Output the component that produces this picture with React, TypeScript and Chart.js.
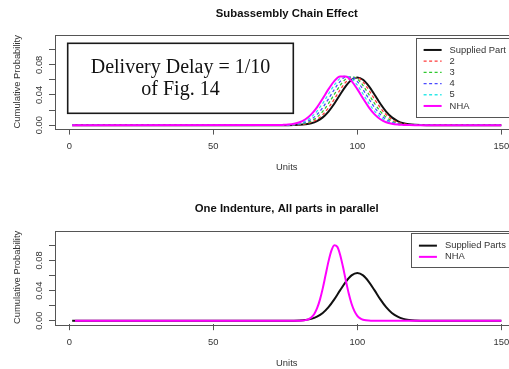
import React, { useEffect, useRef } from "react";
import { Chart, registerables } from "chart.js";

Chart.register(...registerables);

// ---------------- data ----------------
// x grid (Units) used by the "Subassembly Chain Effect" curves
const chainUnits = [1, 72, 74, 76, 78, 80, 82, 84, 86, 88, 90, 92, 94, 96, 98, 100, 102, 104, 106, 108, 110, 112, 114, 116, 118, 120, 122, 124, 126, 128, 150];

const suppliedPart = [0, 0, 0, 0, 0.0001, 0.0004, 0.0011, 0.0025, 0.0054, 0.0103, 0.018, 0.0283, 0.0403, 0.0517, 0.0602, 0.0633, 0.0602, 0.0517, 0.0403, 0.0283, 0.018, 0.0103, 0.0054, 0.0025, 0.0011, 0.0004, 0.0001, 0, 0, 0, 0];
const chain2 = [0, 0, 0, 0.0001, 0.0002, 0.0007, 0.0017, 0.0038, 0.0076, 0.0139, 0.023, 0.0344, 0.0466, 0.057, 0.063, 0.063, 0.057, 0.0466, 0.0344, 0.023, 0.0139, 0.0076, 0.0038, 0.0017, 0.0007, 0.0002, 0.0001, 0, 0, 0, 0];
const chain3 = [0, 0, 0, 0.0001, 0.0004, 0.0011, 0.0026, 0.0054, 0.0105, 0.0182, 0.0287, 0.0408, 0.0525, 0.0611, 0.0642, 0.0611, 0.0525, 0.0408, 0.0287, 0.0182, 0.0105, 0.0054, 0.0026, 0.0011, 0.0004, 0.0001, 0, 0, 0, 0, 0];
const chain4 = [0, 0, 0.0001, 0.0002, 0.0007, 0.0017, 0.0038, 0.0077, 0.0141, 0.0233, 0.0349, 0.0472, 0.0577, 0.0638, 0.0638, 0.0577, 0.0472, 0.0349, 0.0233, 0.0141, 0.0077, 0.0038, 0.0017, 0.0007, 0.0002, 0.0001, 0, 0, 0, 0, 0];
const chain5 = [0, 0, 0.0001, 0.0004, 0.0011, 0.0026, 0.0055, 0.0106, 0.0185, 0.029, 0.0413, 0.0531, 0.0618, 0.065, 0.0618, 0.0531, 0.0413, 0.029, 0.0185, 0.0106, 0.0055, 0.0026, 0.0011, 0.0004, 0.0001, 0, 0, 0, 0, 0, 0];
const nhaChain = [0, 0.0001, 0.0003, 0.0007, 0.0017, 0.0038, 0.0078, 0.0143, 0.0236, 0.0353, 0.0477, 0.0584, 0.0646, 0.0646, 0.0584, 0.0477, 0.0353, 0.0236, 0.0143, 0.0078, 0.0038, 0.0017, 0.0007, 0.0003, 0.0001, 0, 0, 0, 0, 0, 0];

// "One Indenture, All parts in parallel"
const suppliedPartsUnits = [1, 72, 74, 76, 78, 80, 82, 84, 86, 88, 90, 92, 94, 96, 98, 100, 102, 104, 106, 108, 110, 112, 114, 116, 118, 120, 122, 124, 126, 128, 150];
const suppliedParts = [0, 0, 0, 0, 0.0001, 0.0004, 0.0011, 0.0025, 0.0054, 0.0103, 0.018, 0.0283, 0.0403, 0.0517, 0.0602, 0.0633, 0.0602, 0.0517, 0.0403, 0.0283, 0.018, 0.0103, 0.0054, 0.0025, 0.0011, 0.0004, 0.0001, 0, 0, 0, 0];
const nhaParallelUnits = [2, 78, 79, 80, 81, 82, 83, 84, 85, 86, 87, 88, 89, 90, 91, 92, 93, 94, 95, 96, 97, 98, 99, 100, 101, 102, 103, 104, 105, 106, 150];
const nhaParallel = [0, 0, 0, 0.0001, 0.0003, 0.0008, 0.0019, 0.0043, 0.0087, 0.0163, 0.0277, 0.043, 0.061, 0.0788, 0.093, 0.1001, 0.0983, 0.088, 0.0719, 0.0536, 0.0365, 0.0226, 0.0128, 0.0066, 0.0031, 0.0013, 0.0005, 0.0002, 0.0001, 0, 0];

// axes
const xTickStep = 50;
const yTickStep = 0.02;
const yTickLabels = [0, 0.04, 0.08];
const xRange = [-4.96, 155.96];
const yRange = [-0.0046, 0.1196];

// ---------------- styling ----------------
const SANS = "'Liberation Sans', Arial, Helvetica, sans-serif";
const SERIF = "'Liberation Serif', 'Times New Roman', serif";
const AXIS_SIZE = 9.4;
const TEXT = "#333";
const FRAME = "#555";

type Series = { label: string; units: number[]; values: number[]; color: string; width: number; dash: number[] };

type Spec = {
  title: string;
  titleTop: number;
  titleBottom: number;
  xAxisHeight: number;
  unitsBottom: number;
  series: Series[];
  note?: { lines: string[]; box: [number, number, number, number]; baselines: number[] };
};

const topSpec: Spec = {
  title: "Subassembly Chain Effect",
  titleTop: 6.8,
  titleBottom: 14.6,
  xAxisHeight: 51.4,
  unitsBottom: 6.9,
  series: [
    { label: "Supplied Part", units: chainUnits, values: suppliedPart, color: "#111", width: 2, dash: [] },
    { label: "2", units: chainUnits, values: chain2, color: "#ff3a3a", width: 1.3, dash: [3, 2.5] },
    { label: "3", units: chainUnits, values: chain3, color: "#2fc82f", width: 1.3, dash: [3, 2.5] },
    { label: "4", units: chainUnits, values: chain4, color: "#4a4aff", width: 1.3, dash: [3, 2.5] },
    { label: "5", units: chainUnits, values: chain5, color: "#2ee8e8", width: 1.3, dash: [3, 2.5] },
    { label: "NHA", units: chainUnits, values: nhaChain, color: "#ff00ff", width: 2, dash: [] },
  ],
  note: {
    lines: ["Delivery Delay = 1/10", "of Fig. 14"],
    box: [67.7, 43.3, 293.3, 113.3],
    baselines: [72.7, 95],
  },
};

const bottomSpec: Spec = {
  title: "One Indenture, All parts in parallel",
  titleTop: 22.4,
  titleBottom: 14.7,
  xAxisHeight: 44.8,
  unitsBottom: 0.4,
  series: [
    { label: "Supplied Parts", units: suppliedPartsUnits, values: suppliedParts, color: "#111", width: 2, dash: [] },
    { label: "NHA", units: nhaParallelUnits, values: nhaParallel, color: "#ff00ff", width: 2, dash: [] },
  ],
};

const rFrame = {
  id: "rFrame",
  afterDatasetsDraw(chart: any, _args: any, opts: any) {
    const { ctx, chartArea } = chart;
    const { left, top, right, bottom } = chartArea;
    ctx.save();
    // plot box
    ctx.strokeStyle = FRAME;
    ctx.lineWidth = 1;
    ctx.strokeRect(Math.round(left) + 0.5, Math.round(top) + 0.5, Math.round(right - left), Math.round(bottom - top));

    // rotated y tick labels (R style)
    const yScale = chart.scales.y;
    ctx.fillStyle = TEXT;
    ctx.font = `${AXIS_SIZE}px ${SANS}`;
    ctx.textAlign = "center";
    ctx.textBaseline = "middle";
    for (const v of yTickLabels) {
      const py = yScale.getPixelForValue(v);
      ctx.save();
      ctx.translate(left - 16, py);
      ctx.rotate(-Math.PI / 2);
      ctx.fillText(v.toFixed(2), 0, 0);
      ctx.restore();
    }

    // legend (top right)
    const ds = chart.data.datasets;
    ctx.font = `${AXIS_SIZE}px ${SANS}`;
    const maxW = Math.max(...ds.map((d: any) => ctx.measureText(d.label).width));
    const rowH = 11.2;
    const bRight = right - 2.6;
    const bTop = top + 2.6;
    const bW = 34 + maxW + 10;
    const bH = rowH * ds.length + 12;
    const bLeft = bRight - bW;
    ctx.fillStyle = "#fff";
    ctx.fillRect(bLeft, bTop, bW, bH);
    ctx.strokeStyle = FRAME;
    ctx.lineWidth = 1;
    ctx.strokeRect(Math.round(bLeft) + 0.5, Math.round(bTop) + 0.5, Math.round(bW), Math.round(bH));
    ds.forEach((d: any, i: number) => {
      const y = bTop + 12.4 + i * rowH;
      ctx.beginPath();
      ctx.strokeStyle = d.borderColor;
      ctx.lineWidth = d.borderWidth;
      ctx.setLineDash(d.borderDash || []);
      ctx.moveTo(bLeft + 8, y);
      ctx.lineTo(bLeft + 26, y);
      ctx.stroke();
      ctx.setLineDash([]);
      ctx.fillStyle = TEXT;
      ctx.textAlign = "left";
      ctx.textBaseline = "middle";
      ctx.fillText(d.label, bLeft + 34, y);
    });

    // text note
    const note = opts && opts.note;
    if (note) {
      const [x0, y0, x1, y1] = note.box;
      ctx.fillStyle = "#fff";
      ctx.fillRect(x0, y0, x1 - x0, y1 - y0);
      ctx.strokeStyle = "#1a1a1a";
      ctx.lineWidth = 1.6;
      ctx.strokeRect(x0, y0, x1 - x0, y1 - y0);
      ctx.fillStyle = "#111";
      ctx.font = `20px ${SERIF}`;
      ctx.textAlign = "center";
      ctx.textBaseline = "alphabetic";
      note.lines.forEach((t: string, i: number) => ctx.fillText(t, (x0 + x1) / 2, note.baselines[i]));
    }
    ctx.restore();
  },
};

function buildChart(canvas: HTMLCanvasElement, spec: Spec) {
  const n = spec.series.length;
  const axisFont = { family: SANS, size: AXIS_SIZE, lineHeight: 1.2 };
  return new Chart(canvas, {
    type: "line",
    data: {
      datasets: spec.series.map((s, i) => ({
        label: s.label,
        data: s.units.map((u, k) => ({ x: u, y: s.values[k] })),
        borderColor: s.color,
        borderWidth: s.width,
        borderDash: s.dash,
        pointRadius: 0,
        fill: false,
        cubicInterpolationMode: "monotone",
        order: n - i,
      })),
    },
    options: {
      animation: false,
      responsive: false,
      devicePixelRatio: 1,
      events: [],
      layout: { padding: { left: 0, right: 1.5, top: 0, bottom: 0 } },
      plugins: {
        legend: { display: false },
        tooltip: { enabled: false },
        title: {
          display: true,
          text: spec.title,
          fullSize: false,
          color: "#111",
          font: { family: SANS, size: 11.3, weight: "bold", lineHeight: 1.2 },
          padding: { top: spec.titleTop, bottom: spec.titleBottom },
        },
        rFrame: { note: spec.note },
      } as any,
      scales: {
        x: {
          type: "linear",
          min: xRange[0],
          max: xRange[1],
          ticks: { stepSize: xTickStep, includeBounds: false, font: axisFont, color: TEXT, padding: 6.2, maxRotation: 0, autoSkip: false },
          grid: { drawOnChartArea: false, drawTicks: true, tickLength: 6, color: FRAME },
          border: { display: false },
          title: { display: true, text: "Units", font: axisFont, color: TEXT, padding: { top: 0, bottom: spec.unitsBottom } },
          afterFit: (s: any) => { s.height = spec.xAxisHeight; },
        },
        y: {
          type: "linear",
          min: yRange[0],
          max: yRange[1],
          ticks: { display: false, stepSize: yTickStep, includeBounds: false },
          grid: { drawOnChartArea: false, drawTicks: true, tickLength: 6, color: FRAME },
          border: { display: false },
          title: { display: true, text: "Cumulative Probability", font: axisFont, color: TEXT, padding: { top: 11.9, bottom: 0 } },
          afterFit: (s: any) => { s.width = 55; },
        },
      } as any,
    },
    plugins: [rFrame as any],
  } as any);
}

export default function App() {
  const topRef = useRef<HTMLCanvasElement>(null);
  const botRef = useRef<HTMLCanvasElement>(null);
  useEffect(() => {
    const a = buildChart(topRef.current as HTMLCanvasElement, topSpec);
    const b = buildChart(botRef.current as HTMLCanvasElement, bottomSpec);
    return () => {
      a.destroy();
      b.destroy();
    };
  }, []);
  return (
    <div style={{ position: "absolute", left: 0, top: 0, width: 509, height: 369, overflow: "hidden", background: "#fff" }}>
      <canvas ref={topRef} width={520} height={180} style={{ position: "absolute", left: 0, top: 0, width: 520, height: 180 }} />
      <canvas ref={botRef} width={520} height={189} style={{ position: "absolute", left: 0, top: 180, width: 520, height: 189 }} />
    </div>
  );
}
